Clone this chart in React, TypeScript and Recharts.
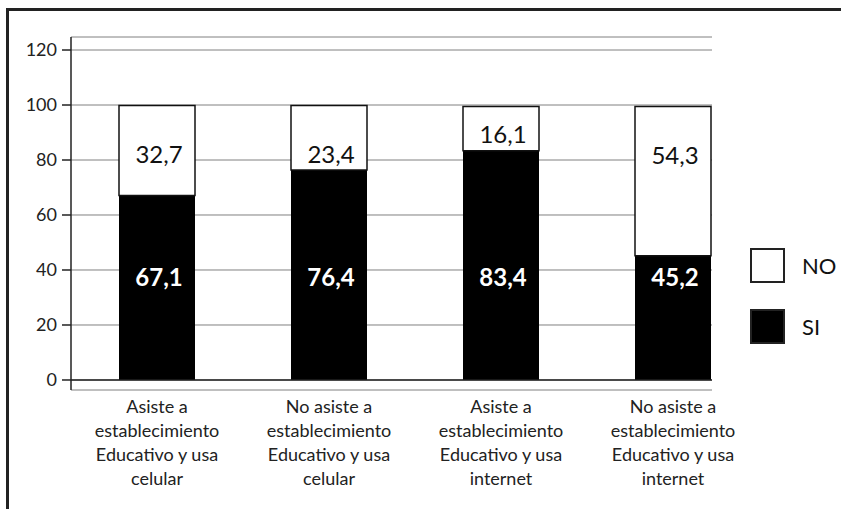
import { BarChart, Bar, XAxis, YAxis, CartesianGrid, ReferenceLine, LabelList, Legend } from 'recharts'

const categories = [
  'Asiste a\nestablecimiento\nEducativo y usa\ncelular',
  'No asiste a\nestablecimiento\nEducativo y usa\ncelular',
  'Asiste a\nestablecimiento\nEducativo y usa\ninternet',
  'No asiste a\nestablecimiento\nEducativo y usa\ninternet',
]
const siValues = [67.1, 76.4, 83.4, 45.2]
const noValues = [32.7, 23.4, 16.1, 54.3]
const yTicks = [0, 20, 40, 60, 80, 100, 120]

const data = categories.map((c, i) => ({ name: c, SI: siValues[i], NO: noValues[i] }))

const fmt = (v: number) => v.toFixed(1).replace('.', ',')

function CategoryTick({ x, y, payload }: any) {
  const lines = String(payload.value).split('\n')
  return (
    <text x={x} y={y} textAnchor="middle" fontSize={18} fill="#222" fontFamily="Lato">
      {lines.map((l, i) => (
        <tspan key={i} x={x} dy={i === 0 ? 23 : 24}>
          {l}
        </tspan>
      ))}
    </text>
  )
}

function SiLabel({ x, y, width, height, value }: any) {
  return (
    <text x={x + width / 2 + 2} y={y + height - 103} textAnchor="middle" dominantBaseline="central"
      fontSize={24} fontWeight={700} fill="#fff" fontFamily="Lato">
      {fmt(value)}
    </text>
  )
}

function NoLabel({ x, y, width, height, value }: any) {
  const cy = height > 55 ? y + 48 : y + height / 2 + 5
  return (
    <text x={x + width / 2 + 2} y={cy} textAnchor="middle" dominantBaseline="central"
      fontSize={24} fill="#111" fontFamily="Lato">
      {fmt(value)}
    </text>
  )
}

function LegendBox({ payload }: any) {
  const items = [...(payload || [])].sort((a: any, b: any) => (a.value === 'NO' ? -1 : b.value === 'NO' ? 1 : 0))
  return (
    <div style={{ fontFamily: 'Lato' }}>
      {items.map((it: any) => (
        <div key={it.value} style={{ display: 'flex', alignItems: 'center', height: 35, marginBottom: 26 }}>
          <div style={{
            width: 31, height: 31, border: '2px solid #222',
            background: it.value === 'SI' ? '#000' : '#fff',
          }} />
          <span style={{ marginLeft: 17, fontSize: 22, color: '#111' }}>{it.value}</span>
        </div>
      ))}
    </div>
  )
}

export default function App() {
  return (
    <div style={{ position: 'fixed', left: 0, top: 0, width: 841, height: 509, overflow: 'hidden', background: '#fff' }}>
      <div style={{ position: 'absolute', left: 6, top: 8, width: 900, height: 3, background: '#222' }} />
      <div style={{ position: 'absolute', left: 6, top: 8, width: 3, height: 600, background: '#222' }} />
      <div style={{ position: 'absolute', left: 0, top: 0 }}>
        <BarChart width={841} height={509} data={data} margin={{ top: 37, right: 129, bottom: 19, left: 0 }}
          style={{ fontFamily: 'Lato' }}>
          <CartesianGrid horizontal vertical={false} stroke="#808080" />
          <XAxis dataKey="name" axisLine={false} tickLine={false} tickSize={0} tickMargin={0} height={100}
            interval={0} padding={{ left: 0, right: -47 }} tick={<CategoryTick />} />
          <YAxis domain={[-3.64, 124.73]} ticks={yTicks} allowDataOverflow width={71} axisLine={{ stroke: '#222', strokeWidth: 1.5 }}
            tickLine={{ stroke: '#222', strokeWidth: 1.5 }} tickSize={9} tickMargin={5}
            tick={{ fontSize: 18, fill: '#222', fontFamily: 'Lato' }} />
          <ReferenceLine y={0} stroke="#222" strokeWidth={1.5} />
          <Bar dataKey="SI" stackId="a" fill="#000" barSize={76} isAnimationActive={false}>
            <LabelList dataKey="SI" content={<SiLabel />} />
          </Bar>
          <Bar dataKey="NO" stackId="a" fill="#fff" stroke="#111" strokeWidth={1.5} barSize={76} isAnimationActive={false}>
            <LabelList dataKey="NO" content={<NoLabel />} />
          </Bar>
          <Legend layout="vertical" align="center" verticalAlign="middle" content={<LegendBox />}
            wrapperStyle={{ left: 750, top: 248, width: 90 }} />
        </BarChart>
      </div>
    </div>
  )
}
